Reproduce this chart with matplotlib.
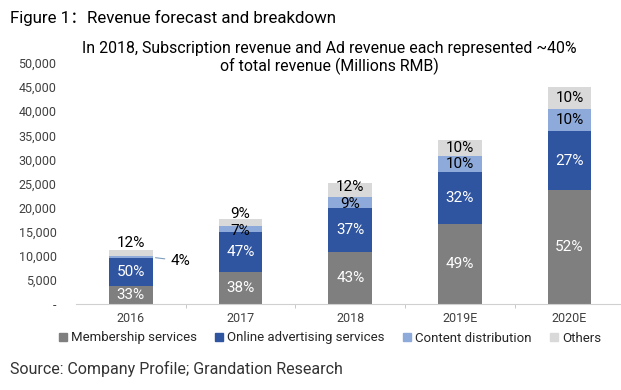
import numpy as np
import matplotlib
matplotlib.use("Agg")
import matplotlib.pyplot as plt
from matplotlib.patches import Patch

plt.rcParams['font.family'] = ['Roboto', 'Noto Sans CJK SC', 'DejaVu Sans']

years = ["2016", "2017", "2018", "2019E", "2020E"]
series_names = ["Membership services", "Online advertising services",
                "Content distribution", "Others"]
# revenue by segment, millions RMB
membership = [3750, 6650, 10700, 16600, 23600]
advertising = [5700, 8200, 9300, 10800, 12200]
content = [450, 1250, 2200, 3300, 4600]
others = [1350, 1550, 2900, 3300, 4700]
# percentage labels shown on the bars
pct_membership = ["33%", "38%", "43%", "49%", "52%"]
pct_advertising = ["50%", "47%", "37%", "32%", "27%"]
pct_content = ["4%", "7%", "9%", "10%", "10%"]
pct_others = ["12%", "9%", "12%", "10%", "10%"]

colors = ["#7f7f7f", "#2f54a0", "#8eaadb", "#d9d9d9"]
text_colors = ["white", "white", "black", "black"]

fig = plt.figure(figsize=(6.21, 3.90), dpi=100)
ax = fig.add_axes([76 / 621, 1 - 304 / 390, 544 / 621, (304 - 63) / 390])

x = np.arange(len(years))
series = [membership, advertising, content, others]
labels = [pct_membership, pct_advertising, pct_content, pct_others]
bottom = np.zeros(len(years))
centers = []
for vals, col in zip(series, colors):
    vals = np.array(vals, dtype=float)
    ax.bar(x, vals, width=0.4, bottom=bottom, color=col)
    centers.append(bottom + vals / 2)
    bottom = bottom + vals
totals = bottom

# segment labels; a few small segments get nudged (in points)
nudge = {(3, 0): None, (2, 0): None, (3, 1): (0, 6), (2, 1): (0, -1),
         (3, 2): (0, 2), (2, 2): (0, -1.5)}
for s in range(4):
    for i in range(len(years)):
        key = (s, i)
        if key in nudge and nudge[key] is None:
            continue
        dx, dy = nudge.get(key, (0, 0))
        ax.annotate(labels[s][i], (x[i], centers[s][i]), xytext=(dx, dy),
                    textcoords="offset points", ha="center", va="center",
                    fontsize=11, color=text_colors[s])

# 2016: others above the bar, content off to the side with a leader line
ax.annotate(pct_others[0], (x[0], totals[0]), xytext=(0, 5),
            textcoords="offset points", ha="center", va="center", fontsize=11)
ax.annotate(pct_content[0], (x[0] + 0.2, centers[2][0]), xytext=(0.36, centers[2][0] - 700),
            textcoords="data", ha="left", va="center", fontsize=11,
            arrowprops=dict(arrowstyle="-", color="#7f9fbf", lw=0.8))

ax.set_xlim(-0.5, 4.46)
ax.set_ylim(0, 50000)
ax.set_yticks(np.arange(0, 50001, 5000))
ax.set_yticklabels(["-"] + [f"{v:,}" for v in range(5000, 50001, 5000)])
ax.set_xticks(x)
ax.set_xticklabels(years)
ax.set_xticks(np.arange(0.5, 4.5, 1), minor=True)
ax.tick_params(axis="y", length=0, labelsize=9, labelcolor="#404040", pad=14)
ax.tick_params(axis="x", which="major", length=0, labelsize=9, labelcolor="#404040", pad=6)
ax.tick_params(axis="x", which="minor", length=3, color="#bfbfbf")
for sp in ["left", "right", "top"]:
    ax.spines[sp].set_visible(False)
ax.spines["bottom"].set_color("#d0d0d0")

fig.text(10 / 621, 1 - 18 / 390, "Figure 1：Revenue forecast and breakdown",
         fontsize=12.2, va="center", ha="left")
fig.text(329 / 621, 1 - 58 / 390,
         "In 2018, Subscription revenue and Ad revenue each represented ~40%\nof total revenue (Millions RMB)",
         fontsize=11.4, ha="center", va="center", linespacing=1.2)

handles = [Patch(color=c) for c in colors]
fig.legend(handles, series_names, loc="center", bbox_to_anchor=(330 / 621, 1 - 338 / 390),
           ncol=4, frameon=False, fontsize=9.5, handlelength=0.6, handleheight=0.6,
           handletextpad=0.3, columnspacing=1.4, labelcolor="#262626")

fig.text(10 / 621, 1 - 369 / 390, "Source: Company Profile; Grandation Research",
         fontsize=11.5, va="center", ha="left", color="#333333")

fig.savefig("out.png", dpi=100, facecolor="white")
